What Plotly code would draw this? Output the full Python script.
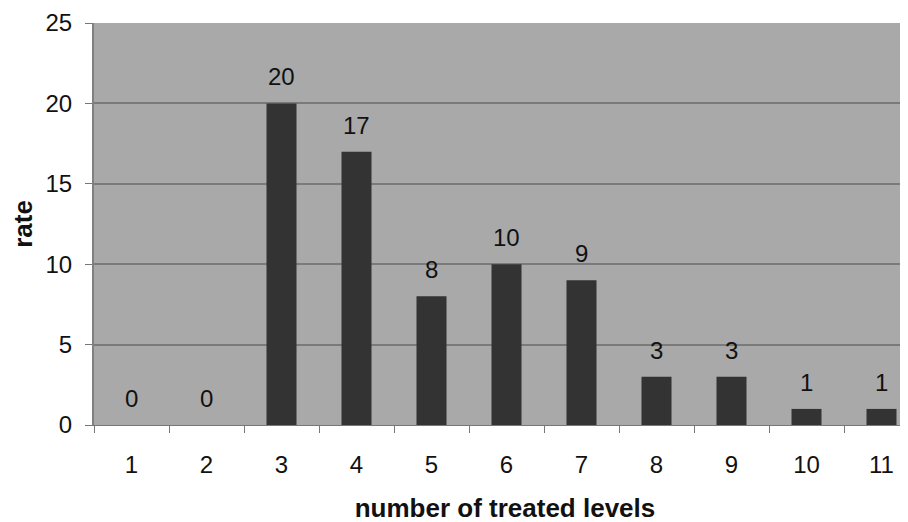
import plotly.graph_objects as go

categories = ["1", "2", "3", "4", "5", "6", "7", "8", "9", "10", "11"]
values = [0, 0, 20, 17, 8, 10, 9, 3, 3, 1, 1]
y_ticks = [0, 5, 10, 15, 20, 25]

FONT = "Liberation Sans, Arial, sans-serif"

fig = go.Figure()
fig.add_trace(go.Bar(
    x=categories, y=values,
    marker=dict(color="#333333", line=dict(width=0)),
    width=0.4,
    showlegend=False,
))

for i, v in enumerate(values):
    fig.add_annotation(
        x=i, y=v, text=str(v), showarrow=False,
        yanchor="bottom", yshift=11,
        font=dict(family=FONT, size=24, color="#111111"),
    )

fig.update_layout(
    width=908, height=522,
    margin=dict(l=86, r=0, t=15, b=105),
    paper_bgcolor="white",
    plot_bgcolor="#a9a9a9",
    font=dict(family=FONT, size=24, color="#111111"),
)

fig.update_xaxes(
    type="category",
    range=[-0.5, 10.46],
    automargin=False,
    tickson="boundaries",
    ticks="outside", ticklen=7, tickcolor="#777777", tickwidth=1,
    ticklabelstandoff=18,
    showline=True, linecolor="#777777", linewidth=1,
    showgrid=False,
    tickfont=dict(family=FONT, size=24, color="#111111"),
    title=dict(text="<b>number of treated levels</b>", standoff=22,
               font=dict(family=FONT, size=26, color="#111111")),
)

fig.update_yaxes(
    range=[0, 25],
    automargin=False,
    tickvals=y_ticks,
    ticks="outside", ticklen=7, tickcolor="#777777", tickwidth=1,
    ticklabelstandoff=8,
    ticklabeloverflow="allow",
    showline=True, linecolor="#808080", linewidth=2,
    showgrid=True, gridcolor="#7a7a7a", gridwidth=2,
    zeroline=False,
    tickfont=dict(family=FONT, size=24, color="#111111"),
    title=dict(text="<b>rate</b>", standoff=23,
               font=dict(family=FONT, size=26, color="#111111")),
)

fig.write_html("out.html")
